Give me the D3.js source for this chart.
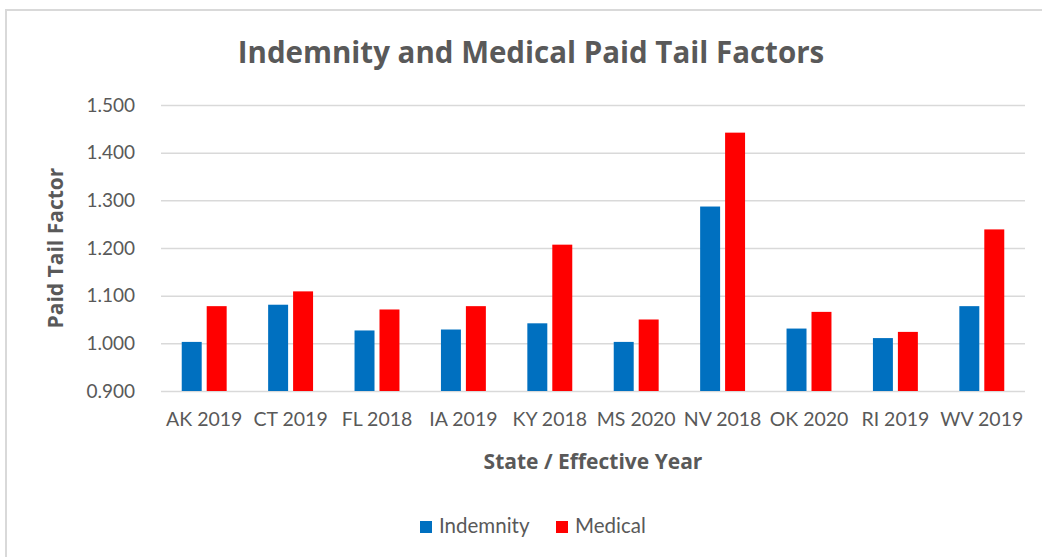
<!DOCTYPE html>
<html>
<head>
<meta charset="utf-8">
<script src="https://cdn.jsdelivr.net/npm/d3@7"></script>
<style>
  body { margin: 0; background: #fff; }
  text { font-family: Lato, "Open Sans", sans-serif; fill: #595959; }
  text.heading { font-family: "Open Sans", Lato, sans-serif; font-weight: bold; }
</style>
</head>
<body>
<svg id="chart"></svg>
<script>
// data
const categories = ["AK 2019", "CT 2019", "FL 2018", "IA 2019", "KY 2018",
                    "MS 2020", "NV 2018", "OK 2020", "RI 2019", "WV 2019"];
const seriesNames = ["Indemnity", "Medical"];
const indemnity = [1.003, 1.081, 1.027, 1.029, 1.042, 1.003, 1.287, 1.031, 1.011, 1.078];
const medical   = [1.078, 1.109, 1.071, 1.078, 1.207, 1.050, 1.442, 1.066, 1.024, 1.239];
const yTicks = [0.9, 1.0, 1.1, 1.2, 1.3, 1.4, 1.5];
const colors = ["#0070C0", "#FF0000"];

const width = 1042, height = 557;
const plot = { left: 161, right: 1025, top: 105, bottom: 391 };

const rows = categories.map((c, i) => ({ cat: c, values: [indemnity[i], medical[i]] }));

const svg = d3.select("#chart")
    .attr("width", width)
    .attr("height", height);

// chart frame (only top / left edges show in the picture)
svg.append("rect")
    .attr("x", 6).attr("y", 10)
    .attr("width", 1100).attr("height", 600)
    .attr("fill", "#fff")
    .attr("stroke", "#d9d9d9")
    .attr("stroke-width", 2);

const x0 = d3.scaleBand(categories, [plot.left, plot.right])
    .paddingInner(0.48)
    .paddingOuter(0.24);
const x1 = d3.scaleBand(seriesNames, [0, x0.bandwidth()])
    .paddingInner(0.2);
const y = d3.scaleLinear([0.9, 1.5], [plot.bottom, plot.top]);
const color = d3.scaleOrdinal(seriesNames, colors);

// y axis with gridlines
const yAxis = d3.axisLeft(y)
    .tickValues(yTicks)
    .tickFormat(d3.format(".3f"))
    .tickSize(-(plot.right - plot.left))
    .tickPadding(26);

svg.append("g")
    .attr("transform", `translate(${plot.left},0)`)
    .call(yAxis)
    .call(g => g.select(".domain").remove())
    .call(g => g.selectAll(".tick line")
                .attr("stroke", "#d9d9d9")
                .attr("stroke-width", 1.5))
    .call(g => g.selectAll(".tick text")
                .attr("font-size", 19)
                .attr("dy", "0.32em"));

// bars
svg.append("g")
  .selectAll("g")
  .data(rows)
  .join("g")
    .attr("transform", d => `translate(${x0(d.cat)},0)`)
  .selectAll("rect")
  .data(d => d.values.map((v, i) => ({ key: seriesNames[i], value: v })))
  .join("rect")
    .attr("x", d => x1(d.key))
    .attr("y", d => y(d.value))
    .attr("width", x1.bandwidth())
    .attr("height", d => y(0.9) - y(d.value))
    .attr("fill", d => color(d.key));

// x axis labels
const xAxis = d3.axisBottom(x0).tickSize(0).tickPadding(21);
svg.append("g")
    .attr("transform", `translate(0,${plot.bottom})`)
    .call(xAxis)
    .call(g => g.select(".domain").remove())
    .call(g => g.selectAll(".tick text").attr("font-size", 19.5));

// title
svg.append("text")
    .attr("class", "heading")
    .attr("x", 531).attr("y", 63)
    .attr("text-anchor", "middle")
    .attr("font-size", 29.5)
    .text("Indemnity and Medical Paid Tail Factors");

// axis titles
svg.append("text")
    .attr("class", "heading")
    .attr("transform", "translate(63,248) rotate(-90)")
    .attr("text-anchor", "middle")
    .attr("font-size", 21)
    .text("Paid Tail Factor");

svg.append("text")
    .attr("class", "heading")
    .attr("x", 593).attr("y", 469)
    .attr("text-anchor", "middle")
    .attr("font-size", 21)
    .text("State / Effective Year");

// legend
const legendX = [420, 556];
const legend = svg.append("g")
  .selectAll("g")
  .data(seriesNames)
  .join("g")
    .attr("transform", (d, i) => `translate(${legendX[i]},521)`);
legend.append("rect")
    .attr("width", 12).attr("height", 12)
    .attr("fill", d => color(d));
legend.append("text")
    .attr("x", 19).attr("y", 12)
    .attr("font-size", 20.5)
    .text(d => d);
</script>
</body>
</html>
